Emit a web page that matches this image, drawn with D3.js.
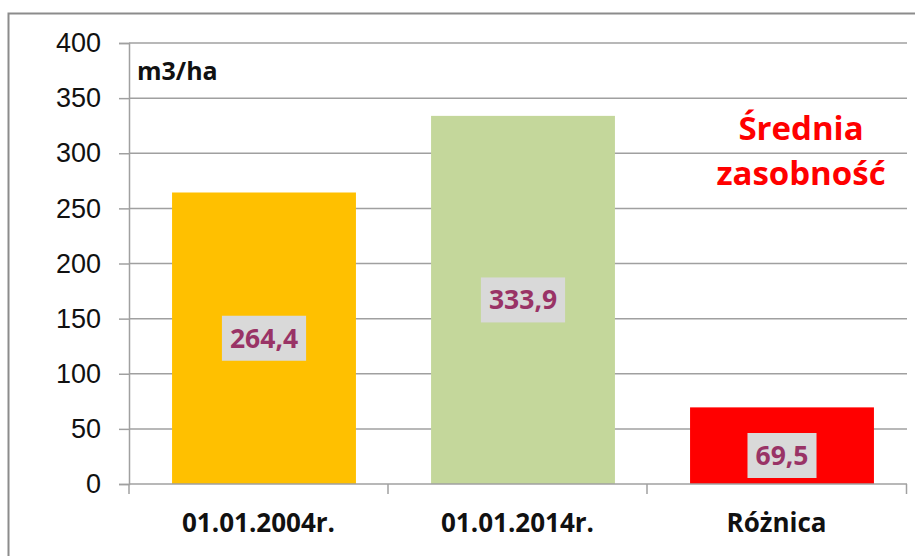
<!DOCTYPE html>
<html>
<head>
<meta charset="utf-8">
<script src="https://cdn.jsdelivr.net/npm/d3@7"></script>
<style>
  body { margin: 0; background: #fff; }
  svg { display: block; font-family: "Open Sans", sans-serif; }
</style>
</head>
<body>
<div id="chart"></div>
<script>
// chart data
const categories = ["01.01.2004r.", "01.01.2014r.", "Różnica"];
const values = [264.4, 333.9, 69.5];
const valueLabels = ["264,4", "333,9", "69,5"];
const barColors = ["#FFC000", "#C4D79B", "#FF0000"];
const yTicks = [0, 50, 100, 150, 200, 250, 300, 350, 400];
const unitLabel = "m3/ha";
const titleLines = ["Średnia", "zasobność"];

const W = 915, H = 556;
const plot = { left: 129, right: 907, top: 43, bottom: 484 };

const svg = d3.select("#chart").append("svg")
    .attr("width", W)
    .attr("height", H)
    .attr("viewBox", [0, 0, W, H]);

svg.append("rect")
    .attr("x", 0).attr("y", 0).attr("width", W).attr("height", H)
    .attr("fill", "#fff");

// outer frame (right and bottom edges fall outside the picture)
svg.append("rect")
    .attr("x", 8.5).attr("y", 13.5)
    .attr("width", W + 20).attr("height", H + 20)
    .attr("fill", "none")
    .attr("stroke", "#8c8c8c")
    .attr("stroke-width", 2);

// category bands (axis ticks sit on band edges)
const x = d3.scaleBand()
    .domain(categories)
    .range([plot.left, plot.right - 1])
    .padding(0);

// bars sit slightly right of band centre, like the original
const xBar = d3.scaleBand()
    .domain(categories)
    .range([plot.left + 5.5, plot.right + 4.5])
    .paddingInner(0.29)
    .paddingOuter(0.145);

const y = d3.scaleLinear()
    .domain([0, 400])
    .range([plot.bottom, plot.top]);

// gridlines + y axis
const yAxis = svg.append("g")
    .attr("transform", `translate(${plot.left},0)`)
    .call(d3.axisLeft(y).tickValues(yTicks).tickSize(10).tickPadding(18));
yAxis.select(".domain").attr("stroke", "#a0a0a0").attr("stroke-width", 1.5);
yAxis.selectAll(".tick line").attr("stroke", "#a0a0a0").attr("stroke-width", 1.5);
yAxis.selectAll(".tick text")
    .attr("font-size", 27)
    .attr("fill", "#111");

svg.append("g")
    .selectAll("line")
    .data(yTicks.filter(d => d > 0))
    .join("line")
    .attr("x1", plot.left).attr("x2", plot.right)
    .attr("y1", d => y(d)).attr("y2", d => y(d))
    .attr("stroke", "#a0a0a0")
    .attr("stroke-width", 1.5);

// bars
svg.append("g")
    .selectAll("rect")
    .data(values)
    .join("rect")
    .attr("x", (d, i) => xBar(categories[i]))
    .attr("y", d => y(d))
    .attr("width", xBar.bandwidth())
    .attr("height", d => y(0) - y(d))
    .attr("fill", (d, i) => barColors[i]);

// x axis with boundary ticks
const xAxis = svg.append("g")
    .attr("transform", `translate(0,${plot.bottom})`);
xAxis.append("line")
    .attr("x1", plot.left).attr("x2", plot.right)
    .attr("stroke", "#a0a0a0").attr("stroke-width", 1.5);
const bounds = categories.map(c => x(c));
bounds.push(plot.right - 0.5);
xAxis.selectAll(".bt")
    .data(bounds)
    .join("line")
    .attr("class", "bt")
    .attr("x1", d => d).attr("x2", d => d)
    .attr("y1", 0).attr("y2", 10)
    .attr("stroke", "#a0a0a0").attr("stroke-width", 1.5);
xAxis.selectAll(".cl")
    .data(categories)
    .join("text")
    .attr("class", "cl")
    .attr("x", d => x(d) + x.bandwidth() / 2)
    .attr("y", 48)
    .attr("text-anchor", "middle")
    .attr("font-size", 26)
    .attr("font-weight", "bold")
    .attr("fill", "#111")
    .text(d => d);

// value labels in grey boxes (short bars: label near the base)
const boxH = 45;
const labels = svg.append("g")
    .selectAll("g")
    .data(values)
    .join("g")
    .attr("transform", (d, i) => {
        const cx = xBar(categories[i]) + xBar.bandwidth() / 2;
        const short = y(0) - y(d) < 2.5 * boxH;
        const cy = short ? y(0) - boxH / 2 - 6 : y(d / 2);
        return `translate(${cx},${cy})`;
    });
labels.append("text")
    .attr("text-anchor", "middle")
    .attr("dy", "0.36em")
    .attr("font-size", 26.5)
    .attr("font-weight", "bold")
    .attr("fill", "#993366")
    .text((d, i) => valueLabels[i]);
labels.each(function() {
    const g = d3.select(this);
    const bb = g.select("text").node().getBBox();
    g.insert("rect", "text")
        .attr("x", bb.x - 8)
        .attr("y", -boxH / 2)
        .attr("width", bb.width + 16)
        .attr("height", boxH)
        .attr("fill", "#D9D9D9");
});

// unit label
svg.append("text")
    .attr("x", 137).attr("y", 80)
    .attr("font-size", 25)
    .attr("font-weight", "bold")
    .attr("fill", "#111")
    .text(unitLabel);

// title in red
svg.append("text")
    .attr("text-anchor", "middle")
    .attr("font-size", 33)
    .attr("font-weight", "bold")
    .attr("fill", "#FF0000")
    .selectAll("tspan")
    .data(titleLines)
    .join("tspan")
    .attr("x", 801)
    .attr("y", (d, i) => 140 + i * 45)
    .text(d => d);
</script>
</body>
</html>
